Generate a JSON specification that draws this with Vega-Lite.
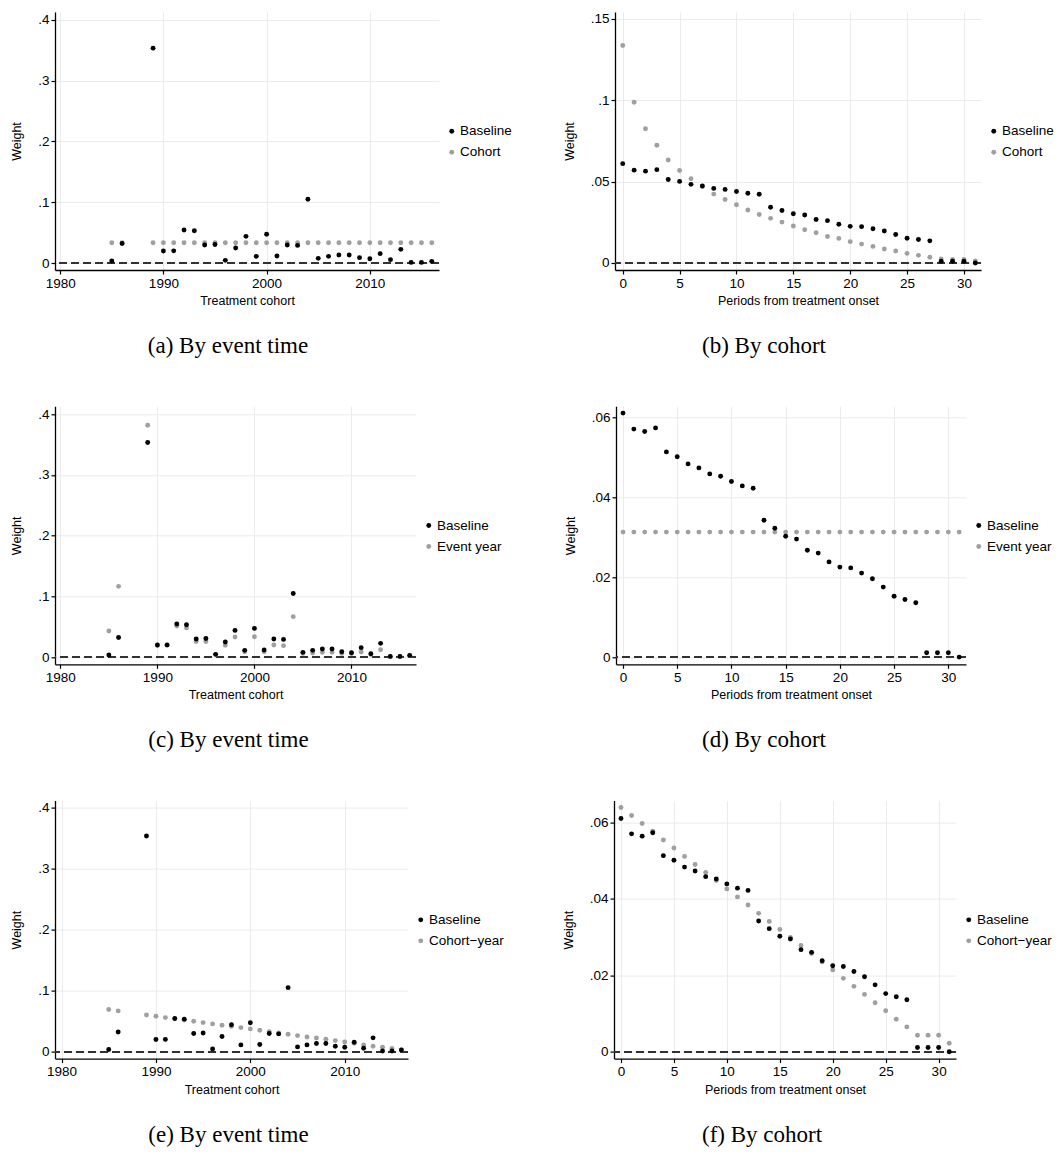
{
  "$schema": "https://vega.github.io/schema/vega-lite/v6.json",
  "background": "white",
  "padding": {"left": 10, "top": 11, "right": 0, "bottom": 0},
  "config": {
    "view": {"stroke": null},
    "font": "Liberation Sans",
    "axis": {
      "domain": true, "ticks": true, "grid": true,
      "labelFont": "Liberation Sans", "labelFontSize": 13.5, "labelColor": "#000",
      "titleFont": "Liberation Sans", "titleFontSize": 12.5, "titleFontWeight": "normal", "titleColor": "#000",
      "domainColor": "#000", "domainWidth": 1.3,
      "tickColor": "#000", "tickWidth": 1.2, "tickSize": 4,
      "gridColor": "#ebebeb", "gridWidth": 1,
      "labelPadding": 2, "labelFlush": false, "labelOverlap": false
    },
    "axisX": {"titlePadding": 5},
    "axisY": {"titlePadding": 14, "labelAngle": 0},
    "legend": {
      "orient": "none",
      "labelFont": "Liberation Sans", "labelFontSize": 13.5, "labelColor": "#000",
      "symbolType": "circle", "symbolSize": 24, "symbolStrokeWidth": 0,
      "rowPadding": 6, "labelOffset": 1.5, "padding": 0
    },
    "title": {
      "orient": "bottom", "anchor": "middle", "frame": "group",
      "font": "Liberation Serif", "fontSize": 23, "fontWeight": "normal",
      "color": "#000", "offset": 28
    }
  },
  "datasets": {
    "cohorts": [
      {"cohort": 1985, "Baseline": 0.0033, "Cohort": 0.0333, "Event year": 0.0429, "Cohort−year": 0.0689},
      {"cohort": 1986, "Baseline": 0.0322, "Cohort": 0.0333, "Event year": 0.1165, "Cohort−year": 0.0667},
      {"cohort": 1989, "Baseline": 0.3535, "Cohort": 0.0333, "Event year": 0.3820, "Cohort−year": 0.0601},
      {"cohort": 1990, "Baseline": 0.0198, "Cohort": 0.0333, "Event year": 0.0190, "Cohort−year": 0.0580},
      {"cohort": 1991, "Baseline": 0.0200, "Cohort": 0.0333, "Event year": 0.0195, "Cohort−year": 0.0557},
      {"cohort": 1992, "Baseline": 0.0543, "Cohort": 0.0333, "Event year": 0.0510, "Cohort−year": 0.0538},
      {"cohort": 1993, "Baseline": 0.0532, "Cohort": 0.0333, "Event year": 0.0480, "Cohort−year": 0.0518},
      {"cohort": 1994, "Baseline": 0.0296, "Cohort": 0.0333, "Event year": 0.0255, "Cohort−year": 0.0497},
      {"cohort": 1995, "Baseline": 0.0305, "Cohort": 0.0333, "Event year": 0.0255, "Cohort−year": 0.0475},
      {"cohort": 1996, "Baseline": 0.0044, "Cohort": 0.0333, "Event year": 0.0040, "Cohort−year": 0.0454},
      {"cohort": 1997, "Baseline": 0.0247, "Cohort": 0.0333, "Event year": 0.0195, "Cohort−year": 0.0432},
      {"cohort": 1998, "Baseline": 0.0439, "Cohort": 0.0333, "Event year": 0.0330, "Cohort−year": 0.0413},
      {"cohort": 1999, "Baseline": 0.0110, "Cohort": 0.0333, "Event year": 0.0085, "Cohort−year": 0.0393},
      {"cohort": 2000, "Baseline": 0.0472, "Cohort": 0.0333, "Event year": 0.0335, "Cohort−year": 0.0372},
      {"cohort": 2001, "Baseline": 0.0115, "Cohort": 0.0333, "Event year": 0.0085, "Cohort−year": 0.0350},
      {"cohort": 2002, "Baseline": 0.0296, "Cohort": 0.0333, "Event year": 0.0198, "Cohort−year": 0.0325},
      {"cohort": 2003, "Baseline": 0.0290, "Cohort": 0.0333, "Event year": 0.0187, "Cohort−year": 0.0305},
      {"cohort": 2004, "Baseline": 0.1048, "Cohort": 0.0333, "Event year": 0.0665, "Cohort−year": 0.0284},
      {"cohort": 2005, "Baseline": 0.0077, "Cohort": 0.0333, "Event year": 0.0060, "Cohort−year": 0.0262},
      {"cohort": 2006, "Baseline": 0.0110, "Cohort": 0.0333, "Event year": 0.0066, "Cohort−year": 0.0240},
      {"cohort": 2007, "Baseline": 0.0132, "Cohort": 0.0333, "Event year": 0.0077, "Cohort−year": 0.0222},
      {"cohort": 2008, "Baseline": 0.0132, "Cohort": 0.0333, "Event year": 0.0077, "Cohort−year": 0.0202},
      {"cohort": 2009, "Baseline": 0.0088, "Cohort": 0.0333, "Event year": 0.0060, "Cohort−year": 0.0180},
      {"cohort": 2010, "Baseline": 0.0071, "Cohort": 0.0333, "Event year": 0.0058, "Cohort−year": 0.0158},
      {"cohort": 2011, "Baseline": 0.0154, "Cohort": 0.0333, "Event year": 0.0082, "Cohort−year": 0.0137},
      {"cohort": 2012, "Baseline": 0.0055, "Cohort": 0.0333, "Event year": 0.0040, "Cohort−year": 0.0110},
      {"cohort": 2013, "Baseline": 0.0225, "Cohort": 0.0333, "Event year": 0.0120, "Cohort−year": 0.0087},
      {"cohort": 2014, "Baseline": 0.0010, "Cohort": 0.0333, "Event year": 0.0005, "Cohort−year": 0.0071},
      {"cohort": 2015, "Baseline": 0.0010, "Cohort": 0.0333, "Event year": 0.0005, "Cohort−year": 0.0050},
      {"cohort": 2016, "Baseline": 0.0027, "Cohort": 0.0333, "Event year": 0.0020, "Cohort−year": 0.0027}
    ],
    "events": [
      {"t": 0, "Baseline": 0.0610, "Cohort": 0.1335, "Event year": 0.03125, "Cohort−year": 0.0639},
      {"t": 1, "Baseline": 0.0570, "Cohort": 0.0987, "Event year": 0.03125, "Cohort−year": 0.0618},
      {"t": 2, "Baseline": 0.0564, "Cohort": 0.0824, "Event year": 0.03125, "Cohort−year": 0.0597},
      {"t": 3, "Baseline": 0.0573, "Cohort": 0.0723, "Event year": 0.03125, "Cohort−year": 0.0577},
      {"t": 4, "Baseline": 0.0513, "Cohort": 0.0632, "Event year": 0.03125, "Cohort−year": 0.0554},
      {"t": 5, "Baseline": 0.0501, "Cohort": 0.0568, "Event year": 0.03125, "Cohort−year": 0.0533},
      {"t": 6, "Baseline": 0.0483, "Cohort": 0.0517, "Event year": 0.03125, "Cohort−year": 0.0511},
      {"t": 7, "Baseline": 0.0473, "Cohort": 0.0470, "Event year": 0.03125, "Cohort−year": 0.0490},
      {"t": 8, "Baseline": 0.0458, "Cohort": 0.0423, "Event year": 0.03125, "Cohort−year": 0.0469},
      {"t": 9, "Baseline": 0.0452, "Cohort": 0.0390, "Event year": 0.03125, "Cohort−year": 0.0448},
      {"t": 10, "Baseline": 0.0439, "Cohort": 0.0358, "Event year": 0.03125, "Cohort−year": 0.0426},
      {"t": 11, "Baseline": 0.0428, "Cohort": 0.0325, "Event year": 0.03125, "Cohort−year": 0.0405},
      {"t": 12, "Baseline": 0.0422, "Cohort": 0.0298, "Event year": 0.03125, "Cohort−year": 0.0384},
      {"t": 13, "Baseline": 0.0342, "Cohort": 0.0274, "Event year": 0.03125, "Cohort−year": 0.0362},
      {"t": 14, "Baseline": 0.0322, "Cohort": 0.0251, "Event year": 0.03125, "Cohort−year": 0.0341},
      {"t": 15, "Baseline": 0.0302, "Cohort": 0.0227, "Event year": 0.03125, "Cohort−year": 0.0320},
      {"t": 16, "Baseline": 0.0295, "Cohort": 0.0204, "Event year": 0.03125, "Cohort−year": 0.0299},
      {"t": 17, "Baseline": 0.0267, "Cohort": 0.0186, "Event year": 0.03125, "Cohort−year": 0.0278},
      {"t": 18, "Baseline": 0.0260, "Cohort": 0.0163, "Event year": 0.03125, "Cohort−year": 0.0257},
      {"t": 19, "Baseline": 0.0238, "Cohort": 0.0151, "Event year": 0.03125, "Cohort−year": 0.0235},
      {"t": 20, "Baseline": 0.0225, "Cohort": 0.0131, "Event year": 0.03125, "Cohort−year": 0.0214},
      {"t": 21, "Baseline": 0.0223, "Cohort": 0.0116, "Event year": 0.03125, "Cohort−year": 0.0192},
      {"t": 22, "Baseline": 0.0210, "Cohort": 0.0102, "Event year": 0.03125, "Cohort−year": 0.0171},
      {"t": 23, "Baseline": 0.0196, "Cohort": 0.0086, "Event year": 0.03125, "Cohort−year": 0.0150},
      {"t": 24, "Baseline": 0.0175, "Cohort": 0.0074, "Event year": 0.03125, "Cohort−year": 0.0128},
      {"t": 25, "Baseline": 0.0152, "Cohort": 0.0059, "Event year": 0.03125, "Cohort−year": 0.0107},
      {"t": 26, "Baseline": 0.0144, "Cohort": 0.0047, "Event year": 0.03125, "Cohort−year": 0.0085},
      {"t": 27, "Baseline": 0.0136, "Cohort": 0.0035, "Event year": 0.03125, "Cohort−year": 0.0065},
      {"t": 28, "Baseline": 0.0011, "Cohort": 0.0025, "Event year": 0.03125, "Cohort−year": 0.0043},
      {"t": 29, "Baseline": 0.0011, "Cohort": 0.0022, "Event year": 0.03125, "Cohort−year": 0.0043},
      {"t": 30, "Baseline": 0.0011, "Cohort": 0.0022, "Event year": 0.03125, "Cohort−year": 0.0043},
      {"t": 31, "Baseline": 0.0000, "Cohort": 0.0012, "Event year": 0.03125, "Cohort−year": 0.0022}
    ]
  },
  "resolve": {"scale": {"x": "independent", "y": "independent", "color": "independent"}, "legend": {"color": "independent"}},
  "spacing": 48.3,
  "vconcat": [
    {
      "spacing": 51,
      "resolve": {"scale": {"x": "independent", "y": "independent", "color": "independent"}, "legend": {"color": "independent"}},
      "hconcat": [
        {
          "width": 384, "height": 258,
          "title": {"text": "(a) By event time", "dx": -19},
          "data": {"name": "cohorts"},
          "transform": [{"fold": ["Cohort", "Baseline"], "as": ["series", "weight"]}],
          "layer": [
            {"mark": {"type": "rule", "strokeDash": [8, 4], "color": "#333", "strokeWidth": 1.2},
             "encoding": {"y": {"datum": 0, "type": "quantitative", "scale": {"domain": [-0.0115, 0.413], "nice": false, "zero": false}, "axis": {"values": [0, 0.1, 0.2, 0.3, 0.4], "title": "Weight", "labelExpr": "replace(format(datum.value, '~g'), '0.', '.')"}}}},
            {"mark": {"type": "point", "filled": true, "size": 24, "opacity": 1},
             "encoding": {
               "x": {"field": "cohort", "type": "quantitative", "scale": {"domain": [1979.5, 2016.7], "nice": false, "zero": false}, "axis": {"values": [1980, 1990, 2000, 2010], "format": "d", "title": "Treatment cohort"}},
               "y": {"field": "weight", "type": "quantitative", "scale": {"domain": [-0.0115, 0.413], "nice": false, "zero": false}, "axis": {"values": [0, 0.1, 0.2, 0.3, 0.4], "title": "Weight", "labelExpr": "replace(format(datum.value, '~g'), '0.', '.')"}},
               "color": {"field": "series", "type": "nominal", "scale": {"domain": ["Baseline", "Cohort"], "range": ["#000000", "#a0a0a0"]}, "legend": {"title": null, "legendX": 390, "legendY": 112.5}}
             }}
          ]
        },
        {
          "width": 366, "height": 258,
          "title": {"text": "(b) By cohort", "dx": -34},
          "data": {"name": "events"},
          "transform": [{"fold": ["Cohort", "Baseline"], "as": ["series", "weight"]}],
          "layer": [
            {"mark": {"type": "rule", "strokeDash": [8, 4], "color": "#333", "strokeWidth": 1.2},
             "encoding": {"y": {"datum": 0, "type": "quantitative", "scale": {"domain": [-0.0043, 0.1541], "nice": false, "zero": false}, "axis": {"values": [0, 0.05, 0.1, 0.15], "title": "Weight", "labelExpr": "replace(format(datum.value, '~g'), '0.', '.')"}}}},
            {"mark": {"type": "point", "filled": true, "size": 24, "opacity": 1},
             "encoding": {
               "x": {"field": "t", "type": "quantitative", "scale": {"domain": [-0.68, 31.5], "nice": false, "zero": false}, "axis": {"values": [0, 5, 10, 15, 20, 25, 30], "title": "Periods from treatment onset"}},
               "y": {"field": "weight", "type": "quantitative", "scale": {"domain": [-0.0043, 0.1541], "nice": false, "zero": false}, "axis": {"values": [0, 0.05, 0.1, 0.15], "title": "Weight", "labelExpr": "replace(format(datum.value, '~g'), '0.', '.')"}},
               "color": {"field": "series", "type": "nominal", "scale": {"domain": ["Baseline", "Cohort"], "range": ["#000000", "#a0a0a0"]}, "legend": {"title": null, "legendX": 372, "legendY": 112.5}}
             }}
          ]
        }
      ]
    },
    {
      "spacing": 62,
      "resolve": {"scale": {"x": "independent", "y": "independent", "color": "independent"}, "legend": {"color": "independent"}},
      "hconcat": [
        {
          "width": 361, "height": 258,
          "title": {"text": "(c) By event time", "dx": -7},
          "data": {"name": "cohorts"},
          "transform": [{"fold": ["Event year", "Baseline"], "as": ["series", "weight"]}],
          "layer": [
            {"mark": {"type": "rule", "strokeDash": [8, 4], "color": "#333", "strokeWidth": 1.2},
             "encoding": {"y": {"datum": 0, "type": "quantitative", "scale": {"domain": [-0.012, 0.4132], "nice": false, "zero": false}, "axis": {"values": [0, 0.1, 0.2, 0.3, 0.4], "title": "Weight", "labelExpr": "replace(format(datum.value, '~g'), '0.', '.')"}}}},
            {"mark": {"type": "point", "filled": true, "size": 24, "opacity": 1},
             "encoding": {
               "x": {"field": "cohort", "type": "quantitative", "scale": {"domain": [1979.45, 2016.65], "nice": false, "zero": false}, "axis": {"values": [1980, 1990, 2000, 2010], "format": "d", "title": "Treatment cohort"}},
               "y": {"field": "weight", "type": "quantitative", "scale": {"domain": [-0.012, 0.4132], "nice": false, "zero": false}, "axis": {"values": [0, 0.1, 0.2, 0.3, 0.4], "title": "Weight", "labelExpr": "replace(format(datum.value, '~g'), '0.', '.')"}},
               "color": {"field": "series", "type": "nominal", "scale": {"domain": ["Baseline", "Event year"], "range": ["#000000", "#a0a0a0"]}, "legend": {"title": null, "legendX": 367, "legendY": 112.5}}
             }}
          ]
        },
        {
          "width": 350, "height": 258,
          "title": {"text": "(d) By cohort", "dx": -27},
          "data": {"name": "events"},
          "transform": [{"fold": ["Event year", "Baseline"], "as": ["series", "weight"]}],
          "layer": [
            {"mark": {"type": "rule", "strokeDash": [8, 4], "color": "#333", "strokeWidth": 1.2},
             "encoding": {"y": {"datum": 0, "type": "quantitative", "scale": {"domain": [-0.0018, 0.0627], "nice": false, "zero": false}, "axis": {"values": [0, 0.02, 0.04, 0.06], "title": "Weight", "labelExpr": "replace(format(datum.value, '~g'), '0.', '.')"}}}},
            {"mark": {"type": "point", "filled": true, "size": 24, "opacity": 1},
             "encoding": {
               "x": {"field": "t", "type": "quantitative", "scale": {"domain": [-0.646, 31.63], "nice": false, "zero": false}, "axis": {"values": [0, 5, 10, 15, 20, 25, 30], "title": "Periods from treatment onset"}},
               "y": {"field": "weight", "type": "quantitative", "scale": {"domain": [-0.0018, 0.0627], "nice": false, "zero": false}, "axis": {"values": [0, 0.02, 0.04, 0.06], "title": "Weight", "labelExpr": "replace(format(datum.value, '~g'), '0.', '.')"}},
               "color": {"field": "series", "type": "nominal", "scale": {"domain": ["Baseline", "Event year"], "range": ["#000000", "#a0a0a0"]}, "legend": {"title": null, "legendX": 356, "legendY": 112.5}}
             }}
          ]
        }
      ]
    },
    {
      "spacing": 58,
      "resolve": {"scale": {"x": "independent", "y": "independent", "color": "independent"}, "legend": {"color": "independent"}},
      "hconcat": [
        {
          "width": 353, "height": 258,
          "title": {"text": "(e) By event time", "dx": -3},
          "data": {"name": "cohorts"},
          "transform": [{"fold": ["Cohort−year", "Baseline"], "as": ["series", "weight"]}],
          "layer": [
            {"mark": {"type": "rule", "strokeDash": [8, 4], "color": "#333", "strokeWidth": 1.2},
             "encoding": {"y": {"datum": 0, "type": "quantitative", "scale": {"domain": [-0.0115, 0.4115], "nice": false, "zero": false}, "axis": {"values": [0, 0.1, 0.2, 0.3, 0.4], "title": "Weight", "labelExpr": "replace(format(datum.value, '~g'), '0.', '.')"}}}},
            {"mark": {"type": "point", "filled": true, "size": 24, "opacity": 1},
             "encoding": {
               "x": {"field": "cohort", "type": "quantitative", "scale": {"domain": [1979.31, 2016.7], "nice": false, "zero": false}, "axis": {"values": [1980, 1990, 2000, 2010], "format": "d", "title": "Treatment cohort"}},
               "y": {"field": "weight", "type": "quantitative", "scale": {"domain": [-0.0115, 0.4115], "nice": false, "zero": false}, "axis": {"values": [0, 0.1, 0.2, 0.3, 0.4], "title": "Weight", "labelExpr": "replace(format(datum.value, '~g'), '0.', '.')"}},
               "color": {"field": "series", "type": "nominal", "scale": {"domain": ["Baseline", "Cohort−year"], "range": ["#000000", "#a0a0a0"]}, "legend": {"title": null, "legendX": 359, "legendY": 112.5}}
             }}
          ]
        },
        {
          "width": 342, "height": 258,
          "title": {"text": "(f) By cohort", "dx": -23},
          "data": {"name": "events"},
          "transform": [{"fold": ["Cohort−year", "Baseline"], "as": ["series", "weight"]}],
          "layer": [
            {"mark": {"type": "rule", "strokeDash": [8, 4], "color": "#333", "strokeWidth": 1.2},
             "encoding": {"y": {"datum": 0, "type": "quantitative", "scale": {"domain": [-0.0018, 0.0657], "nice": false, "zero": false}, "axis": {"values": [0, 0.02, 0.04, 0.06], "title": "Weight", "labelExpr": "replace(format(datum.value, '~g'), '0.', '.')"}}}},
            {"mark": {"type": "point", "filled": true, "size": 24, "opacity": 1},
             "encoding": {
               "x": {"field": "t", "type": "quantitative", "scale": {"domain": [-0.66, 31.64], "nice": false, "zero": false}, "axis": {"values": [0, 5, 10, 15, 20, 25, 30], "title": "Periods from treatment onset"}},
               "y": {"field": "weight", "type": "quantitative", "scale": {"domain": [-0.0018, 0.0657], "nice": false, "zero": false}, "axis": {"values": [0, 0.02, 0.04, 0.06], "title": "Weight", "labelExpr": "replace(format(datum.value, '~g'), '0.', '.')"}},
               "color": {"field": "series", "type": "nominal", "scale": {"domain": ["Baseline", "Cohort−year"], "range": ["#000000", "#a0a0a0"]}, "legend": {"title": null, "legendX": 348, "legendY": 112.5}}
             }}
          ]
        }
      ]
    }
  ]
}
